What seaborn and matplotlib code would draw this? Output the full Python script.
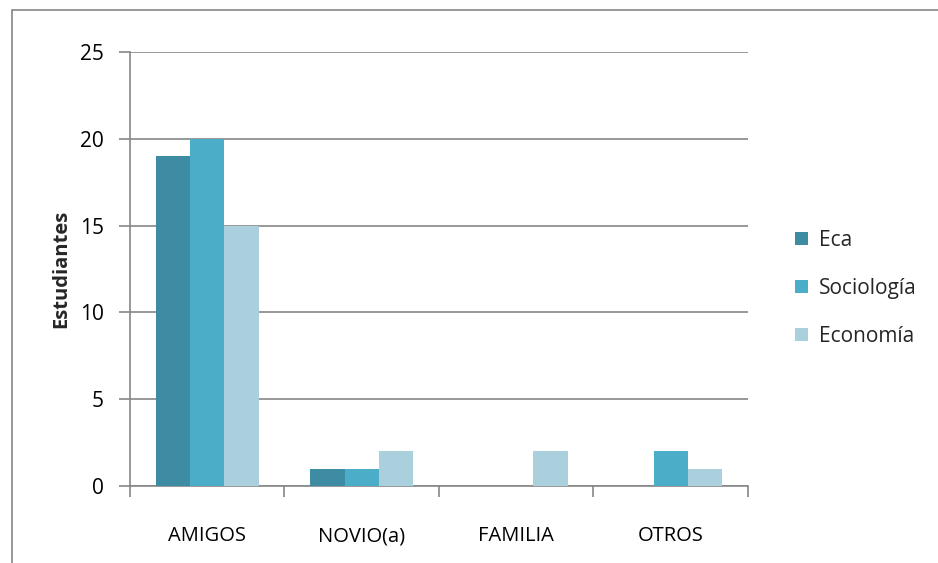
import numpy as np
import pandas as pd
import matplotlib
matplotlib.use('Agg')
import matplotlib.pyplot as plt
import seaborn as sns
from matplotlib.patches import Rectangle

# data
categorias = ['AMIGOS', 'NOVIO(a)', 'FAMILIA', 'OTROS']
eca = [19, 1, 0, 0]
sociologia = [20, 1, 0, 2]
economia = [15, 2, 2, 1]
series = ['Eca', 'Sociología', 'Economía']
colores = ['#3D8CA3', '#4BADC7', '#AACFDD']

df = pd.DataFrame({
    'categoria': categorias * 3,
    'serie': [s for s in series for _ in categorias],
    'valor': eca + sociologia + economia,
})

sns.set_style('white')
plt.rcParams['font.family'] = ['Open Sans', 'DejaVu Sans']

fig = plt.figure(figsize=(9.38, 5.63), dpi=100)
ax = fig.add_axes([0.1386, 0.1368, 0.6588, 0.7709])

sns.barplot(data=df, x='categoria', y='valor', hue='serie', palette=colores,
            width=0.667, saturation=1, ax=ax, linewidth=0, zorder=3)

ax.set_ylim(0, 25)
ax.set_xlim(-0.5, 3.5)
ax.set_yticks(range(0, 26, 5))
ax.yaxis.grid(True, color='#868686', linewidth=1.2, zorder=0)
ax.set_axisbelow(True)

for s in ['top', 'right']:
    ax.spines[s].set_visible(False)
for s in ['left', 'bottom']:
    ax.spines[s].set_color('#868686')
    ax.spines[s].set_linewidth(1.2)

ax.set_xticks(np.arange(-0.5, 4, 1), minor=True)
ax.tick_params(axis='x', which='minor', length=8, width=1.2, color='#868686', direction='out')
ax.tick_params(axis='x', which='major', length=0, pad=29, labelsize=14.5)
ax.tick_params(axis='y', length=8, width=1.2, color='#868686', direction='out', pad=11, labelsize=15)
ax.tick_params(axis='both', which='both', bottom=True, left=True)
for t in ax.get_xticklabels() + ax.get_yticklabels():
    t.set_color('black')

ax.set_xlabel('')
ax.set_ylabel('Estudiantes', fontsize=14.5, fontweight='bold', labelpad=6)

ax.legend(loc='center left', bbox_to_anchor=(0.848, 0.488), bbox_transform=fig.transFigure,
          frameon=False, fontsize=15, handlelength=0.6, handleheight=0.6,
          labelspacing=1.3, handletextpad=0.55, borderpad=0, borderaxespad=0)

# outer chart border
fig.patches.append(Rectangle((12 / 938, -0.1), 1.2, 1.1 - 10 / 563, transform=fig.transFigure,
                             fill=False, edgecolor='#868686', linewidth=1.2))

fig.savefig('out.png', dpi=100)
